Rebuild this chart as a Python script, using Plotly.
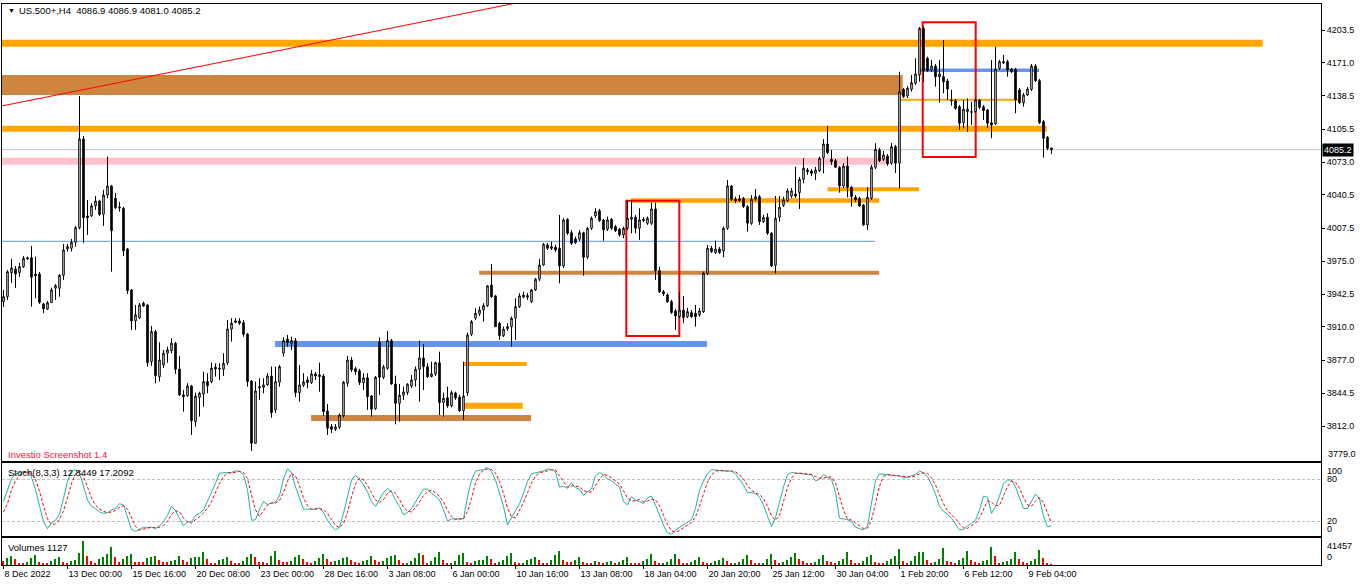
import plotly.graph_objects as go

# ---------------- data (US.500+, H4) ----------------
open_ = [
3934.9,3939.9,3963.6,3967.3,3963.6,3969.5,3977.2,3978.4,3962.3,3962.3,
3932.7,3927.7,3933.9,3948.2,3948.2,3961.0,3987.0,3987.7,3993.6,4008.1,
4095.8,4019.7,4019.7,4029.6,4034.5,4021.3,4040.4,4049.3,4037.2,4028.6,
4027.3,3987.0,3946.5,3915.9,3919.1,3933.4,3931.7,3875.6,3905.3,3860.8,
3872.4,3883.9,3886.5,3893.8,3868.4,3842.7,3842.0,3851.6,3816.3,3840.4,
3843.7,3855.9,3855.9,3870.1,3869.1,3868.1,3874.6,3907.7,3915.9,3915.9,
3914.2,3903.0,3856.5,3794.9,3849.6,3850.3,3852.6,3861.5,3827.9,3855.3,
3883.9,3898.0,3893.8,3896.4,3845.0,3852.3,3857.5,3854.9,3863.5,3862.5,
3861.5,3826.9,3811.4,3808.8,3810.8,3822.2,3854.3,3877.3,3868.7,3866.7,
3854.9,3859.5,3841.7,3829.2,3895.1,3860.2,3869.1,3896.4,3853.6,3834.4,
3842.4,3845.0,3851.6,3857.5,3868.1,3879.3,3870.7,3860.8,3863.5,3874.6,
3835.1,3840.0,3831.9,3844.7,3840.7,3827.2,3845.0,3902.7,3918.6,3922.8,
3926.7,3931.0,3951.4,3940.6,3913.6,3901.3,3908.0,3910.2,3918.6,3930.0,
3939.3,3939.3,3934.9,3946.5,3957.1,3971.2,3991.0,3989.3,3988.7,3987.7,
3970.2,4016.4,4003.1,3996.9,3996.6,4003.1,3978.8,4007.5,4019.7,4024.9,
4015.7,4006.5,4016.4,4009.1,4006.5,4000.9,4007.5,4016.4,4018.4,4007.5,
4015.0,4012.4,4012.4,4026.6,3965.6,3944.8,3941.6,3934.9,3925.8,3920.1,
3926.7,3920.1,3924.1,3923.5,3921.8,3925.1,3963.0,3987.7,3983.4,3987.0,
3985.1,4007.5,4049.3,4036.2,4036.5,4037.2,4028.9,4012.4,4036.2,4038.7,
4014.0,4018.4,4002.5,3970.9,4018.4,4030.2,4034.8,4039.4,4041.4,4042.7,
4055.9,4065.1,4064.1,4061.8,4064.4,4077.3,4090.8,4075.7,4074.3,4067.8,
4049.3,4069.1,4048.0,4038.1,4037.2,4030.5,4010.8,4037.2,4067.8,4084.9,
4075.7,4079.0,4071.8,4088.2,4071.8,4144.9,4138.3,4144.9,4150.8,4159.1,
4205.2,4175.6,4164.0,4167.9,4157.4,4157.4,4153.1,4134.3,4133.6,4127.7,
4111.9,4122.8,4122.8,4122.8,4134.3,4127.7,4124.5,4111.9,4110.6,4165.7,
4172.2,4172.2,4164.7,4164.7,4144.2,4131.6,4139.3,4144.9,4167.9,4153.4,
4112.9,4097.4,4086.9]

high = [
3946.5,3966.3,3977.2,3970.2,3973.2,3980.1,3979.4,3990.0,3979.4,3964.3,
3933.7,3935.6,3948.8,3952.4,3962.3,3992.0,3992.0,3996.9,4009.8,4138.3,
4098.8,4035.5,4032.2,4039.4,4035.5,4045.4,4078.3,4050.3,4042.4,4033.8,
4028.6,3988.0,3947.5,3931.7,3933.7,3934.9,3932.7,3910.9,3907.0,3894.8,
3887.2,3890.5,3898.8,3895.1,3881.3,3847.6,3854.3,3852.6,3845.0,3845.9,
3865.7,3864.2,3874.6,3874.0,3874.0,3883.9,3916.8,3918.6,3918.6,3918.6,
3916.8,3904.0,3857.5,3855.9,3859.2,3859.2,3864.2,3870.7,3870.7,3872.4,
3899.7,3902.0,3900.3,3899.0,3872.4,3864.2,3860.8,3867.4,3865.4,3874.6,
3863.5,3833.8,3814.0,3814.0,3824.2,3856.5,3881.3,3880.3,3870.7,3868.4,
3864.2,3864.2,3842.7,3861.5,3899.7,3872.4,3905.9,3898.0,3861.8,3853.6,
3850.9,3854.3,3862.5,3870.7,3896.4,3893.1,3874.0,3875.6,3875.6,3885.5,
3845.0,3850.9,3847.0,3845.9,3842.7,3875.6,3904.3,3916.8,3928.4,3930.0,
3933.4,3951.4,3972.2,3941.6,3914.9,3910.2,3913.6,3920.1,3938.3,3943.2,
3944.8,3943.5,3947.5,3958.4,3977.2,3993.0,3993.0,3994.2,3991.0,4020.6,
4017.4,4017.4,4005.8,3999.2,4005.8,4004.1,4008.8,4019.0,4027.3,4026.6,
4016.7,4019.0,4017.7,4010.8,4007.8,4009.1,4035.5,4035.5,4020.6,4027.3,
4018.7,4019.0,4032.8,4032.8,3969.5,3946.5,3943.2,3936.6,3927.7,3944.8,
3940.6,3928.7,3926.7,3931.7,3928.7,3964.6,3991.0,3990.0,3995.2,3989.0,
4009.1,4055.3,4050.3,4038.7,4040.4,4038.4,4030.5,4040.4,4046.4,4040.4,
4020.6,4022.3,4003.8,4039.4,4039.4,4038.7,4047.0,4047.3,4068.4,4058.2,
4076.7,4067.1,4066.1,4068.1,4078.3,4095.5,4108.6,4084.9,4076.0,4069.1,
4071.8,4078.3,4049.3,4040.4,4038.4,4031.5,4048.0,4070.1,4091.5,4086.9,
4083.9,4080.9,4091.8,4089.8,4162.3,4146.2,4148.2,4159.1,4175.6,4206.5,
4206.8,4177.1,4173.9,4169.9,4173.9,4193.6,4155.1,4144.2,4135.3,4129.4,
4134.3,4136.0,4132.6,4136.0,4135.3,4129.4,4125.4,4173.9,4187.0,4173.9,
4178.8,4173.9,4166.0,4166.0,4146.2,4141.3,4147.2,4169.9,4169.9,4155.1,
4114.6,4098.7,4086.9]

low = [
3929.7,3936.6,3953.4,3948.5,3959.4,3968.3,3976.2,3930.0,3938.3,3932.7,
3923.5,3926.7,3933.7,3936.6,3939.9,3956.4,3984.4,3984.4,3989.3,4006.5,
3992.7,4000.9,4018.7,4025.6,4019.7,4009.8,4037.2,3964.6,4026.6,4023.9,
3980.1,3942.6,3907.0,3907.0,3917.8,3929.7,3870.7,3871.4,3854.3,3855.9,
3869.4,3874.6,3883.9,3863.5,3841.7,3826.2,3841.0,3803.2,3811.4,3821.3,
3831.1,3844.4,3854.3,3860.8,3857.5,3861.5,3872.4,3895.4,3913.6,3911.9,
3900.3,3850.9,3787.3,3794.3,3837.8,3844.4,3851.6,3820.3,3824.9,3850.9,
3880.6,3890.5,3887.2,3840.4,3836.1,3850.6,3849.3,3853.6,3857.5,3845.9,
3822.2,3803.2,3805.1,3807.1,3809.1,3820.3,3850.9,3865.4,3862.5,3852.6,
3847.6,3827.9,3821.3,3827.9,3842.7,3858.5,3867.4,3852.6,3813.7,3816.3,
3837.8,3842.7,3849.6,3850.9,3836.1,3847.6,3859.5,3860.2,3861.5,3822.9,
3821.3,3829.9,3830.5,3837.8,3825.9,3818.0,3841.7,3900.9,3916.8,3920.8,
3915.2,3929.7,3938.6,3909.9,3897.1,3900.0,3906.0,3890.5,3897.1,3928.7,
3938.3,3936.6,3933.7,3945.5,3955.2,3970.2,3986.0,3986.0,3984.1,3953.1,
3968.3,4000.9,3991.0,3992.0,3994.9,3960.6,3977.2,4005.8,4017.7,4013.7,
3995.2,4004.8,4005.8,4003.8,3999.2,3997.6,4005.8,4002.5,4002.5,3995.9,
4013.7,4010.8,4010.8,3956.4,3943.5,3940.6,3933.7,3922.8,3907.0,3918.8,
3913.6,3918.8,3918.8,3910.2,3920.1,3923.8,3961.3,3983.1,3982.1,3982.1,
3978.8,4005.8,4034.5,4032.5,4033.5,4027.6,4004.1,4010.8,4034.5,4010.8,
4012.7,4000.9,3969.2,3963.0,4014.0,4028.6,4033.5,4037.4,4037.4,4026.6,
4052.0,4060.2,4059.2,4055.3,4063.1,4061.8,4080.9,4070.1,4067.1,4042.7,
4047.3,4038.1,4028.9,4033.5,4028.6,4009.8,4005.8,4035.5,4066.1,4073.0,
4074.0,4069.1,4070.1,4062.2,4047.0,4136.3,4136.3,4142.5,4149.2,4152.4,
4152.4,4162.0,4162.0,4147.5,4131.6,4140.9,4134.3,4128.7,4124.5,4104.7,
4106.4,4103.0,4109.6,4121.5,4125.4,4114.6,4106.7,4096.5,4109.6,4164.0,
4169.9,4157.4,4161.0,4121.2,4130.4,4127.7,4138.3,4143.2,4152.1,4110.6,
4077.3,4084.9,4081.0]

close = [
3939.9,3964.6,3968.3,3962.3,3969.5,3977.8,3978.4,3959.1,3960.6,3934.3,
3927.7,3933.9,3946.5,3950.8,3961.0,3986.0,3989.3,3993.6,4008.1,4095.8,
4018.0,4018.0,4029.6,4034.5,4021.3,4040.4,4049.3,4005.1,4027.9,4027.6,
3985.3,3945.8,3915.9,3921.8,3931.7,3930.7,3874.6,3905.3,3861.8,3877.3,
3883.9,3887.2,3893.8,3868.1,3842.7,3841.0,3851.6,3817.3,3841.7,3844.4,
3855.9,3851.9,3869.1,3868.4,3868.4,3874.0,3907.9,3913.6,3914.6,3913.6,
3902.7,3855.9,3794.9,3846.6,3850.9,3852.6,3861.5,3825.2,3855.9,3870.7,
3896.4,3894.4,3896.4,3845.0,3852.6,3855.6,3854.9,3863.5,3861.5,3860.8,
3826.2,3809.8,3808.8,3811.1,3822.9,3855.3,3877.3,3867.4,3865.7,3854.9,
3859.5,3841.0,3828.6,3860.2,3860.2,3870.4,3896.4,3853.6,3834.4,3842.4,
3845.7,3853.3,3857.5,3868.1,3879.3,3870.7,3860.8,3863.5,3874.6,3835.1,
3839.4,3831.9,3845.0,3839.8,3827.2,3841.7,3902.0,3915.2,3923.5,3926.7,
3931.0,3950.5,3939.9,3910.2,3901.3,3907.7,3910.2,3918.6,3930.0,3940.6,
3941.6,3940.9,3946.5,3957.1,3971.2,3991.7,3987.7,3987.7,3986.0,3970.2,
4015.7,4002.5,3992.7,3993.3,4003.1,3978.8,4007.5,4017.4,4023.9,4015.0,
4005.8,4015.7,4007.5,4005.1,4000.9,4007.5,4017.4,4018.4,4007.5,4015.7,
4016.4,4017.4,4026.6,3965.6,3944.8,3942.6,3934.9,3924.1,3920.8,3926.7,
3919.1,3925.1,3920.1,3920.1,3925.8,3963.0,3987.7,3984.4,3987.0,3983.4,
4007.5,4049.3,4036.2,4034.8,4034.8,4028.9,4012.4,4036.2,4038.7,4014.0,
4018.0,4002.5,3970.2,4017.4,4028.3,4035.5,4044.4,4044.4,4039.4,4055.9,
4066.8,4063.5,4061.8,4065.1,4076.7,4090.8,4082.2,4073.3,4067.8,4049.3,
4069.1,4048.0,4038.7,4035.5,4029.6,4010.8,4038.1,4067.8,4085.6,4074.3,
4080.0,4071.1,4088.2,4071.8,4142.5,4137.6,4145.9,4151.4,4160.0,4205.2,
4163.3,4163.3,4167.9,4157.4,4160.0,4152.4,4145.2,4133.6,4126.1,4111.3,
4125.2,4125.2,4122.2,4134.3,4127.1,4123.8,4111.3,4109.6,4164.7,4172.2,
4171.2,4164.0,4162.3,4134.3,4131.6,4139.3,4145.2,4167.9,4153.4,4111.9,
4096.4,4086.6,4085.2]

stoch_k = [
48,65,81,88,90,91,90,83,65,41,
19,9,17,21,30,53,77,92,94,90,
69,50,41,38,33,31,32,36,38,45,
43,24,8,5,8,11,11,11,9,13,
19,28,41,35,24,13,19,19,28,31,
36,48,60,74,89,89,89,90,92,92,
86,65,21,22,37,48,44,46,47,56,
81,95,90,69,53,37,37,37,37,39,
32,21,13,7,11,31,55,79,86,80,
72,62,48,41,51,61,67,62,50,41,
29,32,38,48,56,66,66,60,56,50,
36,20,23,23,23,23,55,79,92,93,
94,97,91,79,60,41,14,24,35,45,
60,77,88,89,91,92,95,94,91,69,
70,67,75,68,66,57,62,66,85,90,
86,81,78,73,69,48,43,55,50,48,
45,53,56,43,27,14,3,1,7,11,
14,18,22,38,64,77,88,94,93,92,
92,92,92,88,80,72,61,60,60,54,
43,27,12,25,48,69,87,90,89,88,
87,87,87,78,80,87,83,80,61,24,
23,22,19,11,9,7,13,45,78,88,
87,86,85,85,85,82,83,85,87,92,
89,84,73,59,41,34,30,24,16,7,
8,13,17,21,36,56,54,31,41,56,
74,79,79,69,54,38,38,48,59,52,
27,12,12.8449]

stoch_d = [
33,45,65,78,86,89.7,90.3,88,79.3,63,
41.7,23,15,15.7,22.7,34.7,53.3,74,87.7,92,
84.3,69.7,53.3,43,37.3,34,32,33,35.3,39.7,
42,37.3,25,12.3,7,8,10,11,10.3,11,
13.7,20,29.3,34.7,33.3,24,18.7,17,22,26,
31.7,38.3,48,60.7,74.3,84,89,89.3,90.3,91.3,
90,81,57.3,36,26.7,35.7,43,46,45.7,49.7,
61.3,77.3,88.7,84.7,70.7,53,42.3,37,37,37.7,
36,30.7,22,13.7,10.3,16.3,32.3,55,73.3,81.7,
79.3,71.3,60.7,50.3,46.7,51,59.7,63.3,59.7,51,
40,34,33,39.3,47.3,56.7,62.7,64,60.7,55.3,
47.3,35.3,26.3,22,23,23,33.7,52.3,75.3,88,
93,94.7,94,89,76.7,60,38.3,26.3,24.3,34.7,
46.7,60.7,75,84.7,89.3,90.7,92.7,93.7,93.3,84.7,
76.7,68.7,70.7,70,69.7,63.7,61.7,61.7,71,80.3,
87,85.7,81.7,77.3,73.3,63.3,53.3,48.7,49.3,51,
47.7,48.7,51.3,50.7,42,28,14.7,6,3.7,6.3,
10.7,14.3,18,26,41.3,59.7,76.3,86.3,91.7,93,
92.3,92,92,90.7,86.7,80,71,64.3,60.3,58,
52.3,41.3,27.3,21.3,28.3,47.3,68,82,88.7,89,
88,87.3,87,84,81.7,81.7,83.3,83.3,74.7,55,
36,23,21.3,17.3,13,9,9.7,21.7,45.3,70.3,
84.3,87,86,85.3,85,84,83.3,83.3,85,88,
89.3,88.3,82,72,57.7,44.7,35,29.3,23.3,15.7,
10.3,9.3,12.7,17,24.7,37.7,48.7,47,42,42.7,
57,69.7,77.3,75.7,67.3,53.7,43.3,41.3,48.3,53.7,
46,30.3,17.2092]

volume = [
7100,11800,16000,10000,4100,2400,5900,11800,17800,5900,
4100,2400,7100,10000,14200,5900,3500,7100,9500,20700,
41457,16000,7100,4100,10000,13000,18900,30800,14200,5900,
10000,15400,18900,5900,5500,5200,11800,14200,16000,8300,
5900,5500,7100,9500,16000,8300,5900,11800,13000,14200,
21900,10000,4100,3900,8300,10000,14200,7100,4100,3900,
7100,13000,18900,13000,5900,5500,4100,16000,24900,8300,
5900,5500,7100,13000,17800,10000,5900,4100,7100,11800,
18900,10000,5900,7100,8300,11800,14200,8300,5900,4100,
7100,9500,16000,8300,5900,7100,11800,16000,17800,8300,
2400,4100,7100,11800,20100,17800,4100,7100,13000,21900,
8900,2400,4100,7100,17800,20700,5900,4100,7100,8300,
9500,16000,11200,4100,5900,8300,16000,21300,5900,2400,
4100,8300,10100,13000,8300,4100,2400,8300,17800,24900,
8300,5900,5600,8300,13000,5900,4100,3900,7100,5900,
4100,5900,7100,4100,5900,9500,13000,4100,3900,3700,
7100,10100,18900,7100,2400,4100,5900,10100,18900,10100,
4100,2400,5900,8300,14200,5900,2400,4100,7100,8300,
11800,7100,2400,4100,5900,10100,17800,9500,4100,2400,
4100,10100,18900,8300,4100,5900,8300,13000,20100,10100,
6400,2600,2500,4500,10900,17300,6400,4500,2600,7700,
10200,21800,9000,2600,2500,6400,14100,17300,4500,2600,
2500,7700,10900,15400,28200,6400,2600,6400,15400,21800,
22000,9000,2600,4500,10900,29400,7700,4500,2600,9000,
12800,23700,9000,4500,2600,7700,9000,31400,15400,2600,
4500,7700,10900,23000,10200,4500,2600,7700,10900,25600,
12800,2600,1127]

time_labels = ["8 Dec 2022", "13 Dec 00:00", "15 Dec 16:00", "20 Dec 08:00", "23 Dec 00:00",
               "28 Dec 16:00", "3 Jan 08:00", "6 Jan 00:00", "10 Jan 16:00", "13 Jan 08:00",
               "18 Jan 04:00", "20 Jan 20:00", "25 Jan 12:00", "30 Jan 04:00", "1 Feb 20:00",
               "6 Feb 12:00", "9 Feb 04:00"]
time_label_bars = [0, 16, 32, 48, 64, 80, 96, 112, 128, 144, 160, 176, 192, 208, 224, 240, 256]

price_ticks = [4203.5, 4171.0, 4138.5, 4105.5, 4073.0, 4040.5, 4007.5, 3975.0,
               3942.5, 3910.0, 3877.0, 3844.5, 3812.0]
price_bottom_label = 3779.0

# drawn objects: horizontal levels (price, from bar, to bar)
level_price = [4190.4, 4105.8, 4073.7, 3994.6, 3893.1, 3873.3, 3832.1, 3819.9, 3963.6, 4034.9, 4046.0, 4163.7, 4134.5]
level_from  = [-5, -5, -5, -5, 67.9, 115.0, 115.0, 76.9, 118.9, 156.9, 206.0, 229.1, 224.3]
level_to    = [314.8, 260.8, 220.9, 217.9, 175.9, 130.8, 129.8, 131.9, 218.9, 218.9, 228.9, 258.9, 253.9]
zone_low, zone_high, zone_from, zone_to = 4139.2, 4159.0, -5, 224.8
trend_bars = [-0.4, 127.5]
trend_prices = [4128.4, 4229.6]
box_from = [229.8, 155.7]
box_to = [243.05, 168.95]
box_low = [4077.9, 3900.9]
box_high = [4211.1, 4034.7]

# ---------------- styles ----------------
ORANGE, PINK, BLUE, PERU = "#FFA500", "#FFC0CB", "#6495ED", "#CD853F"
level_color = [ORANGE, ORANGE, PINK, BLUE, BLUE, ORANGE, ORANGE, PERU, PERU, ORANGE, ORANGE, BLUE, ORANGE]
level_width = [7, 6, 7, 1, 6, 4, 6, 6, 4, 4.5, 4, 3.5, 2]
FONT = "Liberation Sans"

W, H = 1362, 585
ML, MR, MT, MB = 2, 41, 4, 20
PW, PH = W - ML - MR, H - MT - MB


def px(x):
    return (x - ML) / PW


def py(y):
    return (H - MB - y) / PH


bars = list(range(len(close)))
x_range = [-0.375, -0.375 + PW / 4.0]

vol_colors = ["#008000" if i > 0 and volume[i] > volume[i - 1] else "#FF0000" for i in bars]

fig = go.Figure()
fig.add_trace(go.Candlestick(
    x=bars, open=open_, high=high, low=low, close=close,
    increasing=dict(line=dict(color="black", width=1), fillcolor="white"),
    decreasing=dict(line=dict(color="black", width=1), fillcolor="black"),
    whiskerwidth=0, hoverinfo="none", showlegend=False, xaxis="x", yaxis="y"))
fig.add_trace(go.Scatter(x=bars, y=stoch_k, mode="lines", line=dict(color="#20B2AA", width=1),
                         hoverinfo="none", showlegend=False, xaxis="x2", yaxis="y2"))
fig.add_trace(go.Scatter(x=bars, y=stoch_d, mode="lines", line=dict(color="#FF0000", width=1, dash="3px,2px"),
                         hoverinfo="none", showlegend=False, xaxis="x2", yaxis="y2"))
fig.add_trace(go.Bar(x=bars, y=volume, marker=dict(color=vol_colors, line=dict(width=0)), width=0.3,
                     hoverinfo="none", showlegend=False, xaxis="x3", yaxis="y3"))

shapes = []
shapes.append(dict(type="rect", xref="x", yref="y", x0=zone_from, x1=zone_to, y0=zone_low, y1=zone_high,
                   fillcolor=PERU, line=dict(width=0), layer="below"))
for p, a, b, c, w in zip(level_price, level_from, level_to, level_color, level_width):
    shapes.append(dict(type="line", xref="x", yref="y", x0=a, x1=b, y0=p, y1=p,
                       line=dict(color=c, width=w), layer="below"))
shapes.append(dict(type="line", xref="x domain", yref="y", x0=0, x1=1, y0=close[-1], y1=close[-1],
                   line=dict(color="#C0C0C0", width=1), layer="below"))
shapes.append(dict(type="line", xref="x", yref="y", x0=trend_bars[0], x1=trend_bars[1],
                   y0=trend_prices[0], y1=trend_prices[1], line=dict(color="#FF0000", width=1), layer="below"))
for a, b, lo, hi in zip(box_from, box_to, box_low, box_high):
    shapes.append(dict(type="rect", xref="x", yref="y", x0=a, x1=b, y0=lo, y1=hi,
                       line=dict(color="#FF0000", width=2), fillcolor="rgba(0,0,0,0)", layer="below"))

ann = []


def text(x, y, s, size=9, color="black", anchor="left", **kw):
    ann.append(dict(xref="paper", yref="paper", x=px(x), y=py(y), text=s, showarrow=False,
                    xanchor=anchor, yanchor="middle", font=dict(family=FONT, size=size, color=color), **kw))


text(6, 10.5, "▼", size=7)
text(17, 10.5, "US.500+,H4\u00a0\u00a0" + " ".join(f"{v:.1f}" for v in (open_[-1], high[-1], low[-1], close[-1])), size=9.5)
text(6, 454, "Investio Screenshot 1.4", size=9.5, color="#F0143C")
text(6, 473, f"Stoch(8,3,3) {stoch_k[-1]:.4f} {stoch_d[-1]:.4f}", size=9.5)
text(6, 547, f"Volumes {volume[-1]}", size=9.5)
text(1325, 470.5, "100")
text(1325, 479.3, "80")
text(1325, 521, "20")
text(1325, 528.5, "0")
text(1325, 545.5, f"{max(volume)}")
text(1325, 556.5, "0")
text(1326, 454, f"{price_bottom_label:.1f}")
ann.append(dict(xref="paper", yref="y", x=px(1322), y=close[-1], text=f"{close[-1]:.1f}", showarrow=False,
                xanchor="left", yanchor="middle", bgcolor="black", borderpad=1,
                font=dict(family=FONT, size=9, color="white")))

axis_common = dict(showline=True, mirror=True, linecolor="black", linewidth=1, showgrid=False, zeroline=False)

main_bottom, main_top = py(461), py(MT)
stoch_bottom, stoch_top = py(536), py(463)
vol_bottom, vol_top = py(H - MB), py(538)

p_top = price_ticks[0] + (30 - MT) / 1.0115
p_bot = price_ticks[0] - (461 - 30) / 1.0115

fig.update_layout(
    width=W, height=H, margin=dict(l=ML, r=MR, t=MT, b=MB),
    paper_bgcolor="white", plot_bgcolor="white", showlegend=False, hovermode=False,
    boxgap=0.45, bargap=0,
    font=dict(family=FONT, size=9, color="black"),
    xaxis=dict(domain=[0, 1], anchor="y", range=x_range, showticklabels=False, ticks="",
               rangeslider=dict(visible=False), **axis_common),
    xaxis2=dict(domain=[0, 1], anchor="y2", range=x_range, matches="x", showticklabels=False, ticks="", **axis_common),
    xaxis3=dict(domain=[0, 1], anchor="y3", range=x_range, matches="x", tickmode="array",
                tickvals=time_label_bars, ticktext=time_labels, ticks="outside", ticklen=3, tickcolor="black",
                ticklabelposition="outside right", tickfont=dict(family=FONT, size=9, color="black"), **axis_common),
    yaxis=dict(domain=[main_bottom, main_top], anchor="x", side="right", range=[p_bot, p_top],
               tickmode="array", tickvals=price_ticks, ticktext=[f"{v:.1f}" for v in price_ticks],
               ticks="outside", ticklen=3, tickcolor="black",
               tickfont=dict(family=FONT, size=9, color="black"), **axis_common),
    yaxis2=dict(domain=[stoch_bottom, stoch_top], anchor="x2", side="right", range=[-1.6, 103.5],
                tickmode="array", tickvals=[20, 80], showticklabels=False, ticks="",
                showline=True, mirror=True, linecolor="black", linewidth=1, zeroline=False,
                showgrid=True, gridcolor="#C0C0C0", gridwidth=1, griddash="3px,2px"),
    yaxis3=dict(domain=[vol_bottom, vol_top], anchor="x3", side="right", range=[0, max(volume) * 27 / 24],
                showticklabels=False, ticks="", **axis_common),
    shapes=shapes, annotations=ann,
)

fig.write_html("out.html", config={"displayModeBar": False},
               post_script="document.body.style.margin='0';document.body.style.overflow='hidden';")
